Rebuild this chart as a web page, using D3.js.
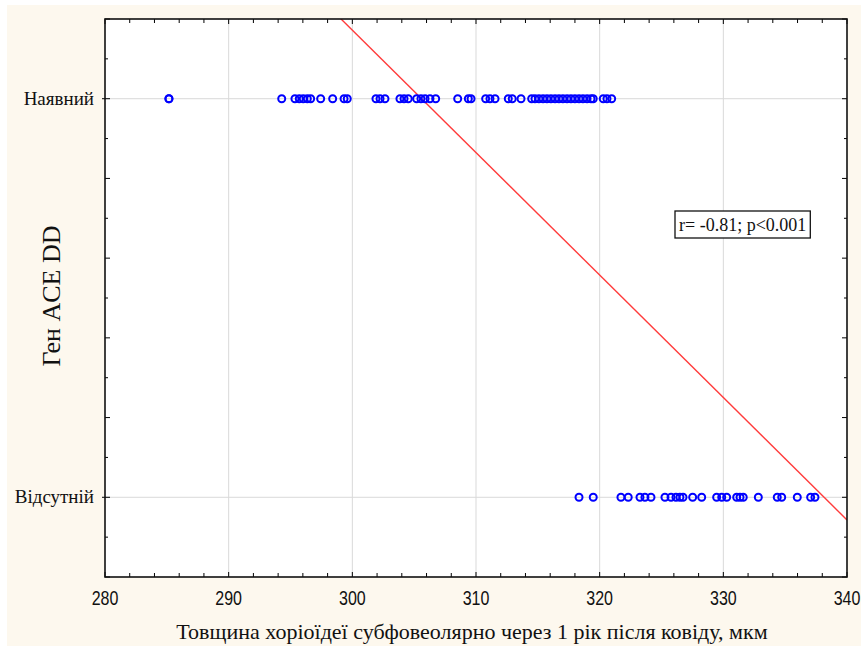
<!DOCTYPE html>
<html>
<head>
<meta charset="utf-8">
<script src="https://cdn.jsdelivr.net/npm/d3@7"></script>
<style>
  html, body { margin: 0; padding: 0; background: #ffffff; }
  svg { display: block; }
</style>
</head>
<body>
<svg id="chart" width="861" height="646"></svg>
<script>
// Choroid thickness (µm) one year after COVID, grouped by ACE DD genotype
const categories = ["Відсутній", "Наявний"];

const presentValues = [
  285.17, 285.17, 294.29, 295.36, 295.71, 296.03, 296.36, 296.63, 297.44, 298.41,
  299.33, 299.59, 301.91, 302.24, 302.64, 303.85, 304.18, 304.52, 305.20, 305.55,
  305.88, 306.28, 306.74, 308.52, 309.38, 309.60, 310.78, 311.13, 311.54, 312.61,
  312.93, 313.64, 314.50, 314.77, 315.09, 315.42, 315.74, 316.06, 316.39, 316.71,
  317.03, 317.36, 317.68, 318.00, 318.33, 318.65, 318.98, 319.30, 319.48, 320.29,
  320.59, 320.97
];

const absentValues = [
  318.33, 319.48, 321.72, 322.31, 323.26, 323.66, 324.15, 325.28, 325.77, 326.17,
  326.49, 326.74, 327.52, 328.25, 329.46, 329.87, 330.27, 331.08, 331.35, 331.61,
  332.83, 334.36, 334.72, 335.98, 337.06, 337.41
];

// Fitted linear regression: group code = intercept + slope * thickness
const fitIntercept = 10.388;
const fitSlope = -0.03072;
const fitLabel = "r= -0.81; p<0.001";

const xTicks = [280, 290, 300, 310, 320, 330, 340];
const xTitle = "Товщина хоріоїдеї субфовеолярно через 1 рік після ковіду, мкм";
const yTitle = "Ген ACE DD";

const svg = d3.select("#chart");
const W = 861, H = 646;
const m = { left: 105, right: 14, top: 19, bottom: 69 };
const iw = W - m.left - m.right;
const ih = H - m.top - m.bottom;
const serif = "'Liberation Serif', 'Times New Roman', serif";

// cream page panel
svg.append("rect").attr("x", 7).attr("y", 5).attr("width", W - 7).attr("height", H - 5)
  .attr("fill", "#fdf8ee");

const x = d3.scaleLinear().domain([280, 340]).range([m.left, m.left + iw]);
const y = d3.scaleLinear().domain([-0.2, 1.2]).range([m.top + ih, m.top]);

const plot = svg.append("g");
plot.append("rect").attr("x", m.left).attr("y", m.top).attr("width", iw).attr("height", ih)
  .attr("fill", "#ffffff");

// grid lines
plot.append("g").selectAll("line").data(xTicks.slice(1, -1)).join("line")
  .attr("x1", d => x(d)).attr("x2", d => x(d))
  .attr("y1", m.top).attr("y2", m.top + ih)
  .attr("stroke", "#d9d9d9").attr("stroke-width", 1);
plot.append("g").selectAll("line").data([0, 1]).join("line")
  .attr("x1", m.left).attr("x2", m.left + iw)
  .attr("y1", d => y(d)).attr("y2", d => y(d))
  .attr("stroke", "#d9d9d9").attr("stroke-width", 1);

// clip for marks
svg.append("clipPath").attr("id", "plotclip").append("rect")
  .attr("x", m.left).attr("y", m.top).attr("width", iw).attr("height", ih);

// regression line
const xa = 280, xb = 340;
plot.append("line")
  .attr("clip-path", "url(#plotclip)")
  .attr("x1", x(xa)).attr("y1", y(fitIntercept + fitSlope * xa))
  .attr("x2", x(xb)).attr("y2", y(fitIntercept + fitSlope * xb))
  .attr("stroke", "#ff3b3b").attr("stroke-width", 1.4);

// points
const pts = presentValues.map(v => ({ v, g: 1 })).concat(absentValues.map(v => ({ v, g: 0 })));
plot.append("g").selectAll("circle").data(pts).join("circle")
  .attr("cx", d => x(d.v)).attr("cy", d => y(d.g)).attr("r", 3.5)
  .attr("fill", "none").attr("stroke", "#0000ff").attr("stroke-width", 2);

// axes (ticks inward)
const minorX = d3.range(280, 341, 2);
const axisG = svg.append("g").attr("stroke", "#000");
function tickLines(data, fn) {
  axisG.append("g").selectAll("line").data(data).join("line").each(fn);
}
// bottom and top ticks
tickLines(minorX, function(d) {
  const len = d % 10 === 0 ? 5 : 4;
  d3.select(this).attr("x1", x(d)).attr("x2", x(d)).attr("y1", m.top + ih).attr("y2", m.top + ih - len);
});
tickLines(minorX, function(d) {
  const len = d % 10 === 0 ? 5 : 4;
  d3.select(this).attr("x1", x(d)).attr("x2", x(d)).attr("y1", m.top).attr("y2", m.top + len);
});
// left / right ticks
const yTickVals = d3.range(-2, 13).map(i => i / 10);
tickLines(yTickVals, function(d) {
  const major = Math.abs(Math.round(d * 10)) % 2 === 0;
  const labeled = Math.abs(d) < 1e-9 || Math.abs(d - 1) < 1e-9;
  d3.select(this).attr("x1", m.left - (labeled ? 3 : 0)).attr("x2", m.left + (major ? 5 : 3))
    .attr("y1", y(d)).attr("y2", y(d));
});
tickLines(yTickVals, function(d) {
  const major = Math.abs(Math.round(d * 10)) % 2 === 0;
  d3.select(this).attr("x1", m.left + iw).attr("x2", m.left + iw - (major ? 5 : 3))
    .attr("y1", y(d)).attr("y2", y(d));
});

// frame
svg.append("rect").attr("x", m.left).attr("y", m.top).attr("width", iw).attr("height", ih)
  .attr("fill", "none").attr("stroke", "#111").attr("stroke-width", 1.6);

// x tick labels (condensed)
svg.append("g").selectAll("text").data(xTicks).join("text")
  .attr("transform", d => `translate(${x(d)},${m.top + ih + 28}) scale(0.8,1)`)
  .attr("text-anchor", "middle")
  .attr("font-family", "'Liberation Sans Narrow', 'Arial Narrow', 'Liberation Sans', sans-serif")
  .attr("font-size", 20).attr("fill", "#111")
  .text(d => d);

// category labels
svg.append("g").selectAll("text").data([0, 1]).join("text")
  .attr("x", m.left - 11).attr("y", d => y(d) + 6)
  .attr("text-anchor", "end")
  .attr("font-family", serif)
  .attr("font-size", 19).attr("fill", "#111")
  .text(d => categories[d]);

// axis titles
svg.append("text")
  .attr("x", x(310) - 4).attr("y", 639)
  .attr("text-anchor", "middle")
  .attr("font-family", serif)
  .attr("font-size", 22).attr("fill", "#111")
  .text(xTitle);
svg.append("text")
  .attr("transform", `translate(60,${y(0.5) - 2}) rotate(-90)`)
  .attr("text-anchor", "middle")
  .attr("font-family", serif)
  .attr("font-size", 26).attr("fill", "#111")
  .text(yTitle);

// annotation box
const ann = svg.append("g").attr("transform", "translate(675,211)");
const annText = ann.append("text")
  .attr("x", 4).attr("y", 20)
  .attr("font-family", serif)
  .attr("font-size", 18).attr("fill", "#111")
  .text(fitLabel);
const bw = annText.node().getComputedTextLength() + 8;
ann.insert("rect", "text").attr("x", 0).attr("y", 0).attr("width", bw).attr("height", 27)
  .attr("fill", "#ffffff").attr("stroke", "#111").attr("stroke-width", 1.3);
</script>
</body>
</html>
